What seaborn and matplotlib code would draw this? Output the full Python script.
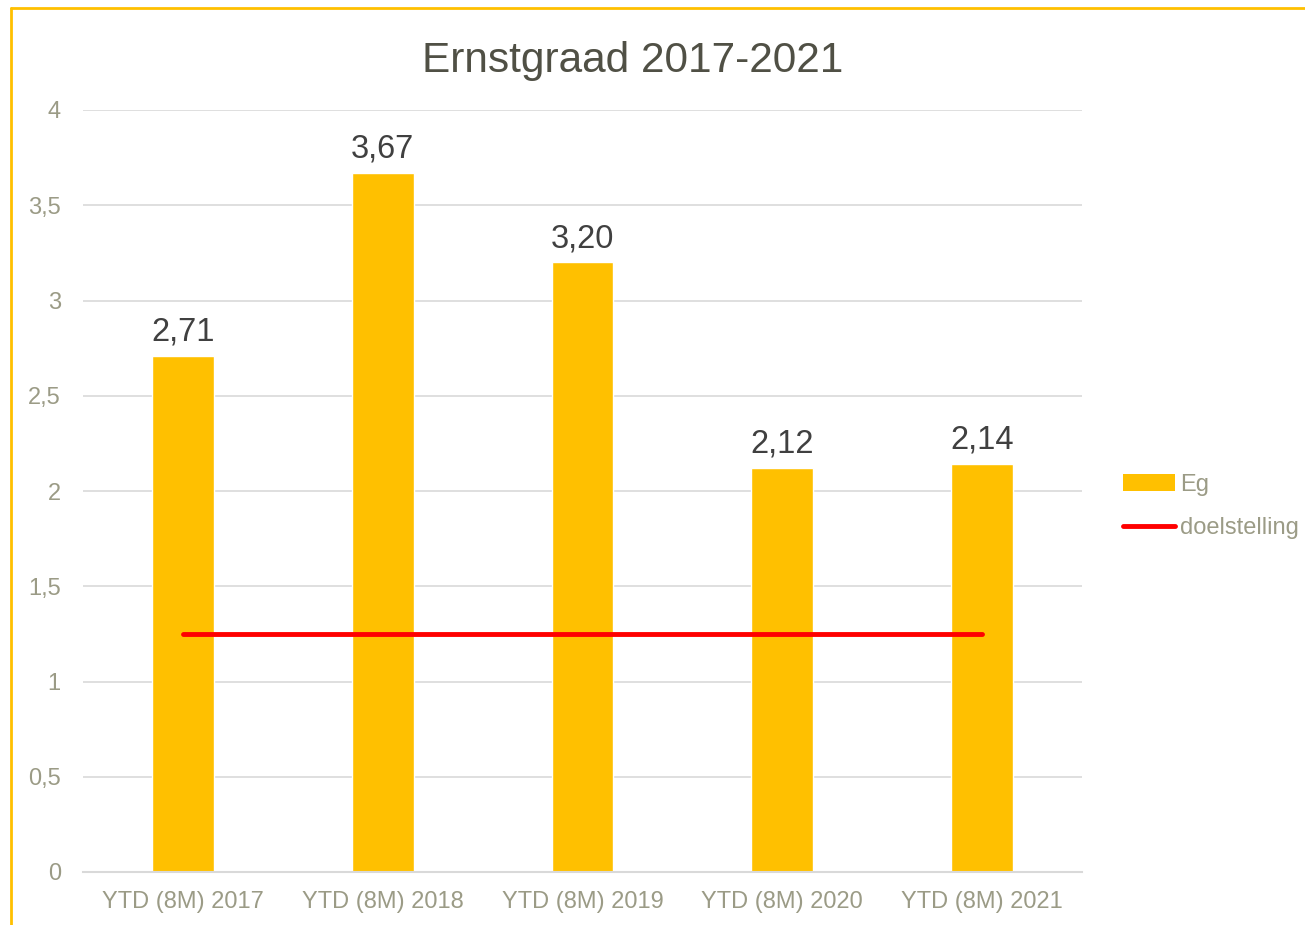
import matplotlib
matplotlib.use("Agg")
import matplotlib.pyplot as plt
from matplotlib.lines import Line2D
from matplotlib.patches import Patch
from matplotlib.ticker import FuncFormatter
import seaborn as sns

categories = ["YTD (8M) 2017", "YTD (8M) 2018", "YTD (8M) 2019", "YTD (8M) 2020", "YTD (8M) 2021"]
eg_values = [2.71, 3.67, 3.20, 2.12, 2.14]
target = [1.25, 1.25, 1.25, 1.25, 1.25]
y_ticks = [0, 0.5, 1, 1.5, 2, 2.5, 3, 3.5, 4]

sns.set_style("white")
plt.rcParams['font.family'] = ['Liberation Sans', 'DejaVu Sans']

grey = "#9b9b86"
fig = plt.figure(figsize=(13.05, 9.25), dpi=100)
ax = fig.add_axes([83 / 1305, 1 - 872 / 925, 999 / 1305, 762 / 925])

sns.barplot(x=categories, y=eg_values, color="#FFC000", width=0.31,
            saturation=1, ax=ax)
ax.plot(categories, target, color="#FF0000", linewidth=3.5, solid_capstyle="round")

ax.bar_label(ax.containers[0], labels=[f"{v:.2f}".replace(".", ",") for v in eg_values],
             padding=6, fontsize=23.5, color="#404040")

ax.set_ylim(0, 4)
ax.set_xlim(-0.5, 4.5)
ax.set_yticks(y_ticks)
ax.yaxis.set_major_formatter(FuncFormatter(lambda v, p: f"{v:g}".replace(".", ",")))
ax.grid(axis="y", color="#d9d9d9", linewidth=1.2)
ax.set_axisbelow(True)
for s in ["top", "right", "left"]:
    ax.spines[s].set_visible(False)
ax.spines["bottom"].set_color("#d9d9d9")
ax.spines["bottom"].set_linewidth(1.5)
ax.tick_params(axis="y", length=0, pad=16, labelsize=17, labelcolor=grey)
ax.tick_params(axis="x", length=0, pad=14, labelsize=17, labelcolor=grey)
ax.set_xlabel("")
ax.set_ylabel("")

fig.text(633 / 1305, 1 - 61 / 925, "Ernstgraad 2017-2021", ha="center", va="center",
         fontsize=30.5, color="#505045")

handles = [Patch(facecolor="#FFC000", edgecolor="none"),
           Line2D([0], [0], color="#FF0000", linewidth=3.5, solid_capstyle="round")]
ax.legend(handles, ["Eg", "doelstelling"], loc="center left", bbox_to_anchor=(1.02, 0.48),
          frameon=False, fontsize=17, labelcolor=grey, handlelength=2.2,
          handletextpad=0.2, labelspacing=0.9)

# outer border (yellow) on left and top
fig.add_artist(Line2D([11 / 1305, 11 / 1305], [0, 1 - 8 / 925], color="#FFC000",
                      linewidth=2, transform=fig.transFigure))
fig.add_artist(Line2D([11 / 1305, 1], [1 - 8 / 925, 1 - 8 / 925], color="#FFC000",
                      linewidth=2, transform=fig.transFigure))

fig.savefig("out.png", dpi=100)
